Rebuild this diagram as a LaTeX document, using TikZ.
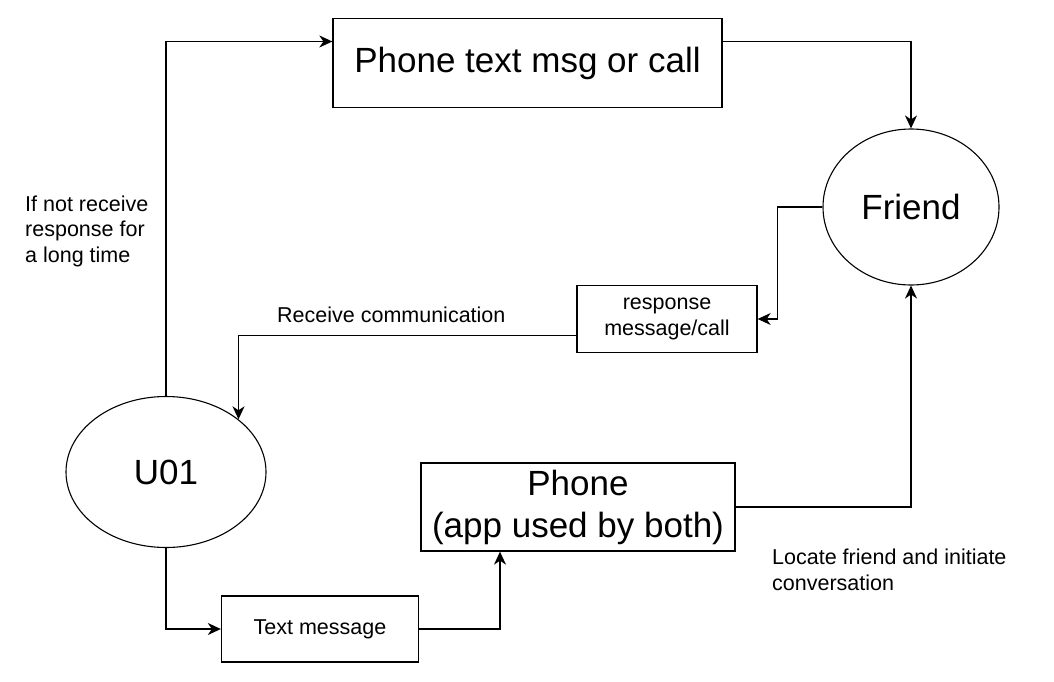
\documentclass[tikz,border=0pt]{standalone}
\usepackage{fontspec}
\setmainfont{Liberation Sans}
\usetikzlibrary{shapes.geometric,arrows.meta}
\begin{document}
\begin{tikzpicture}[x=1pt,y=-1pt,
 box/.style={draw,line width=1.3pt,inner sep=0pt,align=center},
 oval/.style={draw,ellipse,line width=1.1pt,inner sep=0pt},
 big/.style={font=\fontsize{35}{42}\selectfont},
 small/.style={font=\fontsize{21.5}{25.5}\selectfont},
 arr/.style={line width=1.3pt,-{Stealth[length=13pt,width=12pt,inset=4pt]}},
 lbl/.style={small,align=left,inner sep=0pt}]
\useasboundingbox (0,0) rectangle (1054,682);
\node[box,big,minimum width=389pt,minimum height=89pt] (box1) at (527.5,63) {Phone text msg or call};
\node[oval,big,minimum width=176pt,minimum height=156pt] (friend) at (911,207) {Friend};
\node[box,small,minimum width=180pt,minimum height=67pt] (resp) at (667,319) {response\\message/call};
\node[oval,big,minimum width=200pt,minimum height=151pt] (u01) at (166,472) {U01};
\node[box,big,minimum width=314pt,minimum height=88pt] (phone) at (578,507) {Phone\\(app used by both)};
\node[box,small,minimum width=197pt,minimum height=66pt] (txt) at (320,629) {Text message};
\node[lbl,anchor=west] (l1) at (25,231) {If not receive\\response for\\a long time};
\node[lbl,anchor=base west] (l2) at (277,322) {Receive communication};
\node[lbl,anchor=west] (l3) at (772,570) {Locate friend and initiate\\conversation};
\coordinate (t1) at (0,41.5);
\coordinate (t2) at (0,335.5);
\coordinate (t3) at (500,0);
\draw[arr] (u01.north) |- (box1.west |- t1);
\draw[arr] (box1.east |- t1) -| (friend.north);
\draw[arr] (friend.west) -- ++(-45,0) |- (resp.east);
\draw[arr] (resp.west |- t2) -| (u01.36.6);
\draw[arr] (u01.south) |- (txt.west);
\draw[arr] (txt.east) -| (t3 |- phone.south);
\draw[arr] (phone.east) -| (friend.south);
\end{tikzpicture}
\end{document}
